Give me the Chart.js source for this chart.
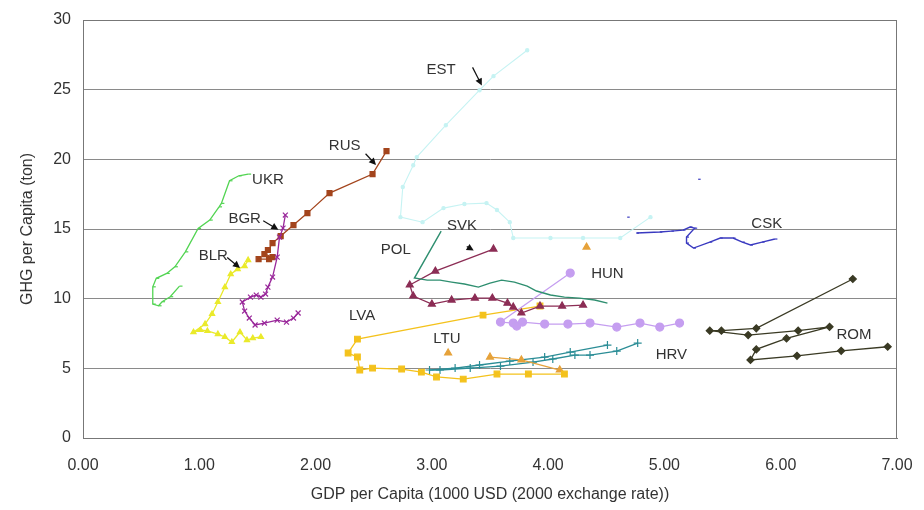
<!DOCTYPE html>
<html>
<head>
<meta charset="utf-8">
<script src="https://cdn.jsdelivr.net/npm/chart.js@4"></script>
<style>
  html, body { margin: 0; padding: 0; background: #fff; }
  #wrap { width: 924px; height: 510px; }
</style>
</head>
<body>
<div id="wrap"><canvas id="c" width="924" height="510"></canvas></div>
<script>
// GDP per capita (1000 USD, 2000 rate) vs GHG per capita (ton), [gdp, ghg] per year
const UKR = [[1.42,18.94],[1.34,18.82],[1.26,18.46],[1.19,16.84],[1.17,16.59],[1.09,15.64],[0.99,15.04],[0.88,13.36],[0.79,12.29],[0.72,11.81],[0.63,11.46],[0.60,10.85],[0.60,9.61],[0.65,9.49],[0.68,9.78],[0.75,10.14],[0.83,10.90]];
const BLR = [[1.42,12.77],[1.39,12.34],[1.33,12.12],[1.27,11.76],[1.22,10.83],[1.16,9.76],[1.11,8.90],[1.05,8.18],[0.95,7.60],[1.01,7.75],[1.07,7.68],[1.16,7.46],[1.22,7.25],[1.28,6.89],[1.35,7.60],[1.41,7.03],[1.46,7.17],[1.53,7.25]];
const BGR = [[1.74,16.00],[1.72,15.06],[1.69,14.42],[1.67,12.98],[1.63,11.55],[1.59,10.83],[1.57,10.33],[1.53,10.11],[1.49,10.26],[1.44,10.11],[1.37,9.76],[1.39,9.11],[1.43,8.61],[1.48,8.11],[1.56,8.25],[1.67,8.46],[1.75,8.32],[1.81,8.61],[1.85,8.97]];
const RUS = [[2.61,20.59],[2.49,18.94],[2.12,17.58],[1.93,16.14],[1.81,15.28],[1.70,14.49],[1.63,13.99],[1.59,13.49],[1.56,13.20],[1.63,12.98],[1.60,12.84],[1.51,12.84]];
const EST = [[3.82,27.83],[3.53,25.97],[3.41,24.96],[3.12,22.45],[2.87,20.16],[2.84,19.58],[2.75,18.01],[2.73,15.85],[2.92,15.49],[3.10,16.50],[3.28,16.79],[3.47,16.86],[3.56,16.36],[3.67,15.49],[3.70,14.35],[4.02,14.35],[4.30,14.35],[4.62,14.35],[4.88,15.85]];
const POL = [[3.08,14.85],[2.85,11.48],[2.96,11.33],[3.07,11.33],[3.17,11.19],[3.28,11.05],[3.40,10.83],[3.50,11.12],[3.60,11.33],[3.71,11.19],[3.82,10.90],[3.90,10.55],[4.02,10.26],[4.14,10.11],[4.27,10.04],[4.40,9.90],[4.51,9.68]];
const SVK = [[3.53,13.56],[3.03,11.98],[2.81,10.98],[2.84,10.19],[3.00,9.61],[3.17,9.90],[3.37,10.04],[3.52,10.04],[3.65,9.68],[3.70,9.40],[3.77,8.97],[3.93,9.47],[4.12,9.47],[4.30,9.54]];
const HUN = [[4.19,11.84],[3.59,8.32],[3.70,8.25],[3.73,8.03],[3.78,8.32],[3.97,8.18],[4.17,8.18],[4.36,8.25],[4.59,7.96],[4.79,8.25],[4.96,7.96],[5.13,8.25]];
const LVA = [[3.93,9.47],[3.44,8.82],[2.36,7.10],[2.28,6.10],[2.36,5.81],[2.38,4.88],[2.49,5.02],[2.74,4.95],[2.91,4.73],[3.04,4.38],[3.27,4.23],[3.56,4.59],[3.83,4.59],[4.14,4.59]];
const LTU = [[4.33,13.70],null,[3.14,6.10],null,[3.50,5.81],[3.77,5.60],[4.10,4.88]];
const HRV = [[4.77,6.81],[4.59,6.24],[4.36,5.95],[4.23,5.95],[4.04,5.67],[3.87,5.45],[3.59,5.16],[3.33,5.02],[3.07,4.88],[2.98,4.88],[3.20,5.02],[3.41,5.24],[3.67,5.52],[3.97,5.81],[4.19,6.17],[4.51,6.67]];
const CSK = [[5.29,18.57],null,[4.68,15.85],null,[4.76,14.71],[4.96,14.78],[5.06,14.85],[5.16,14.92],[5.22,15.14],[5.26,15.06],[5.19,14.42],[5.19,13.99],[5.25,13.63],[5.39,14.06],[5.48,14.35],[5.59,14.35],[5.67,14.06],[5.74,13.85],[5.84,14.06],[5.95,14.28]];
const ROM = [[6.62,11.41],[5.79,7.87],[5.49,7.70],[5.39,7.70],[5.72,7.39],[6.15,7.70],[6.42,7.98],[6.05,7.15],[5.79,6.36],[5.74,5.60],[6.14,5.90],[6.52,6.26],[6.92,6.55]];

const xTicks = [0,1,2,3,4,5,6,7];
const yTicks = [0,5,10,15,20,25,30];

// country labels: [text, gdp, ghg]
const countryLabels = [
  ['EST',3.08,26.4],['RUS',2.25,21.0],['UKR',1.59,18.55],['BGR',1.39,15.7],['BLR',1.12,13.1],
  ['SVK',3.26,15.25],['POL',2.69,13.5],['CSK',5.88,15.4],['HUN',4.51,11.8],['LVA',2.40,8.75],
  ['LTU',3.13,7.15],['HRV',5.06,5.95],['ROM',6.63,7.4]
];
// leader arrows: [fromGdp, fromGhg, toGdp, toGhg]
const leaderArrows = [
  [3.35,26.6,3.43,25.3],
  [2.43,20.4,2.52,19.6],
  [1.55,15.6,1.68,14.95],
  [1.24,12.95,1.35,12.2],
  [3.30,13.75,3.36,13.45]
];

function pts(arr) {
  return arr.map(p => p ? {x: p[0], y: p[1]} : {x: null, y: null});
}

function series(label, arr, color, style, radius, width) {
  return {
    label, data: pts(arr), showLine: true, spanGaps: false,
    borderColor: color, backgroundColor: color, borderWidth: width || 1.2,
    pointStyle: style, pointRadius: radius, pointBorderColor: color,
    pointBackgroundColor: color, pointBorderWidth: 1.2, tension: 0
  };
}

const datasets = [
  series('EST', EST, '#c6f3f3', 'circle', 1.6, 1.1),
  series('UKR', UKR, '#52d452', 'dash', 3, 1.3),
  series('BLR', BLR, '#eaea2a', 'triangle', 3, 1.3),
  series('BGR', BGR, '#99279a', 'crossRot', 3.5, 1.3),
  series('RUS', RUS, '#a3441c', 'rect', 3.5, 1.3),
  series('POL', POL, '#2f8f70', 'circle', 0, 1.4),
  series('SVK', SVK, '#8c2d55', 'triangle', 4, 1.3),
  series('HUN', HUN, '#c59ef0', 'circle', 4, 1.3),
  series('LVA', LVA, '#f4c21c', 'rect', 4, 1.3),
  series('LTU', LTU, '#e6a23a', 'triangle', 4, 1.3),
  series('HRV', HRV, '#2b8d96', 'cross', 4, 1.3),
  series('CSK', CSK, '#3a3ac0', 'dash', 2.5, 1.4),
  series('ROM', ROM, '#3a3a24', 'rectRot', 3.5, 1.3)
];

const annotate = {
  id: 'annotate',
  afterDatasetsDraw(chart) {
    const {ctx, chartArea: a, scales: {x, y}} = chart;
    ctx.save();
    ctx.strokeStyle = '#777';
    ctx.lineWidth = 1;
    ctx.strokeRect(a.left + 0.5, a.top + 0.5, a.right - a.left - 1, a.bottom - a.top);
    ctx.font = '15px "Liberation Sans", Arial, sans-serif';
    ctx.fillStyle = '#333';
    ctx.textAlign = 'center';
    ctx.textBaseline = 'middle';
    countryLabels.forEach(([t, gx, gy]) => ctx.fillText(t, x.getPixelForValue(gx), y.getPixelForValue(gy)));
    ctx.strokeStyle = '#111';
    ctx.fillStyle = '#111';
    ctx.lineWidth = 1.2;
    leaderArrows.forEach(([x1, y1, x2, y2]) => {
      const px1 = x.getPixelForValue(x1), py1 = y.getPixelForValue(y1);
      const px2 = x.getPixelForValue(x2), py2 = y.getPixelForValue(y2);
      const ang = Math.atan2(py2 - py1, px2 - px1);
      ctx.beginPath();
      ctx.moveTo(px1, py1);
      ctx.lineTo(px2 - 4 * Math.cos(ang), py2 - 4 * Math.sin(ang));
      ctx.stroke();
      ctx.beginPath();
      ctx.moveTo(px2, py2);
      ctx.lineTo(px2 - 7 * Math.cos(ang) + 3.5 * Math.sin(ang), py2 - 7 * Math.sin(ang) - 3.5 * Math.cos(ang));
      ctx.lineTo(px2 - 7 * Math.cos(ang) - 3.5 * Math.sin(ang), py2 - 7 * Math.sin(ang) + 3.5 * Math.cos(ang));
      ctx.closePath();
      ctx.fill();
    });
    ctx.restore();
  }
};

const tickFont = {family: '"Liberation Sans", Arial, sans-serif', size: 16};

new Chart(document.getElementById('c'), {
  type: 'scatter',
  data: {datasets},
  options: {
    responsive: false,
    animation: false,
    layout: {padding: {top: 20, right: 27, left: 0, bottom: 0}},
    plugins: {legend: {display: false}, tooltip: {enabled: false}},
    scales: {
      x: {
        type: 'linear', min: 0, max: 7,
        afterFit(s) { s.height = 72; s.paddingLeft = 0; s.paddingRight = 0; },
        afterBuildTicks(s) { s.ticks = xTicks.map(v => ({value: v})); },
        grid: {display: false, drawTicks: false},
        border: {display: true, color: '#777', width: 1},
        ticks: {color: '#333', font: tickFont, padding: 18, maxRotation: 0,
                callback: v => Number(v).toFixed(2)},
        title: {display: true, text: 'GDP per Capita (1000 USD (2000 exchange rate))',
                color: '#333', font: tickFont, padding: {top: 0, bottom: 6}}
      },
      y: {
        type: 'linear', min: 0, max: 30,
        afterFit(s) { s.width = 83; s.paddingTop = 0; s.paddingBottom = 0; },
        afterBuildTicks(s) { s.ticks = yTicks.map(v => ({value: v})); },
        grid: {color: '#8a8a8a', lineWidth: 1, drawTicks: false},
        border: {display: true, color: '#777', width: 1},
        ticks: {color: '#333', font: tickFont, padding: 12},
        title: {display: true, text: 'GHG per Capita (ton)', color: '#333',
                font: tickFont, padding: {top: 18, bottom: 0}}
      }
    }
  },
  plugins: [annotate]
});
</script>
</body>
</html>
